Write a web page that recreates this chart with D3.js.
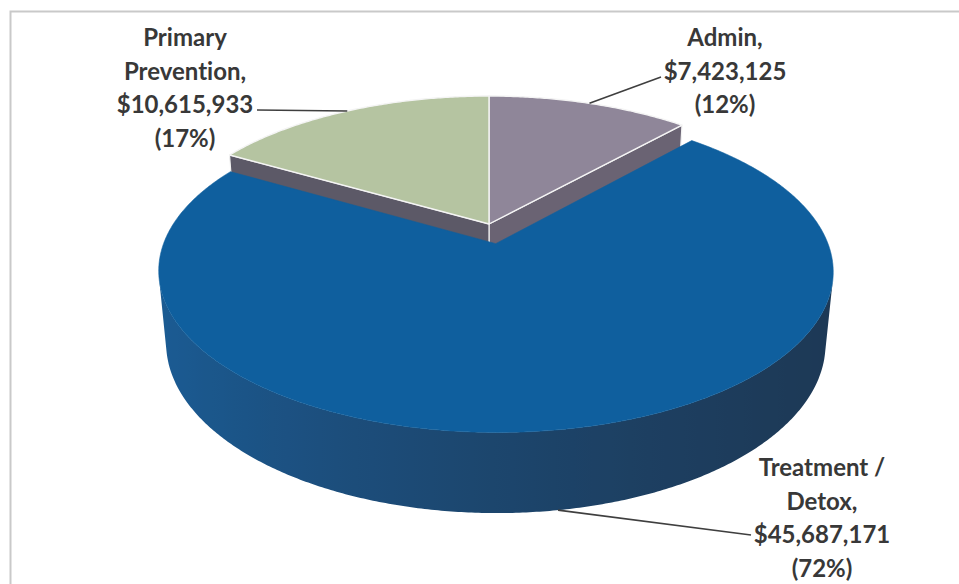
<!DOCTYPE html>
<html>
<head>
<meta charset="utf-8">
<script src="https://cdn.jsdelivr.net/npm/d3@7"></script>
<style>
  html, body { margin: 0; padding: 0; background: #ffffff; }
  svg { display: block; }
  text { font-variant-ligatures: none; font-feature-settings: "liga" 0, "clig" 0; }
</style>
</head>
<body>
<svg id="chart" width="959" height="584"></svg>
<script>
// Spending by program area
const categories = ["Admin", "Treatment / Detox", "Primary Prevention"];
const nameLines  = [["Admin"], ["Treatment /", "Detox"], ["Primary", "Prevention"]];
const amounts    = [7423125, 45687171, 10615933];
const explode    = [0, 0.13, 0];           // radial offset, fraction of radius
const topColors  = ["#8f8699", "#0f5f9e", "#b5c4a1"];
const wallColors = ["#6a6373", null, "#5c5967"];

const W = 959, H = 584;
const svg = d3.select("#chart");
const defs = svg.append("defs");

// Frame
svg.append("path")
  .attr("d", `M10.5,${H} V11.5 H${W}`)
  .attr("fill", "none").attr("stroke", "#c9c9c9").attr("stroke-width", 2);

// Simple perspective camera for a tilted cylinder (units of radius)
const cam = { cx: 489, cy: 224, F: 325, alpha: 27.4 * Math.PI / 180, k: 0.19, h: 0.248 };
const sa = Math.sin(cam.alpha), ca = Math.cos(cam.alpha);
function proj(X, Y, Z) {
  const up = Y * sa + Z * ca;
  const dep = 1 + cam.k * (Y * ca - Z * sa);
  return [cam.cx + cam.F * X / dep, cam.cy - cam.F * up / dep];
}

const pie = d3.pie().sort(null).value(d => d)
  .startAngle(0).endAngle(2 * Math.PI);
const arcs = pie(amounts);
const total = d3.sum(amounts);

const STEP = Math.PI / 360;
function sliceGeom(a, i) {
  const mid = (a.startAngle + a.endAngle) / 2;
  const ox = explode[i] * Math.sin(mid), oy = explode[i] * Math.cos(mid);
  const pt = (th, z) => proj(ox + Math.sin(th), oy + Math.cos(th), z);
  const ctr = z => proj(ox, oy, z);
  const n = Math.max(2, Math.ceil((a.endAngle - a.startAngle) / STEP));
  const ths = d3.range(n + 1).map(j => a.startAngle + (a.endAngle - a.startAngle) * j / n);
  return { mid, ox, oy, pt, ctr, ths };
}

const area = q => {
  let s = 0;
  for (let j = 0; j < q.length; j++) {
    const p = q[j], r = q[(j + 1) % q.length];
    s += p[0] * r[1] - r[0] * p[1];
  }
  return s / 2;
};
const line = d3.line();

// Lighting for the curved rim of the large slice
const rimDark = "#1d3956", rimLight = "#1b5b93";
function rimColor(th) {
  const t = (1 + Math.cos(th - 265 * Math.PI / 180)) / 2;
  return d3.interpolateRgb(rimDark, rimLight)(Math.pow(t, 1.6));
}

function drawSlice(a, i) {
  const g = svg.append("g");
  const s = sliceGeom(a, i);
  const mz = -cam.h;
  // radial walls (clockwise boundary: centre -> start edge, end edge -> centre)
  const walls = [
    [s.ctr(0), s.pt(a.startAngle, 0), s.pt(a.startAngle, mz), s.ctr(mz)],
    [s.pt(a.endAngle, 0), s.ctr(0), s.ctr(mz), s.pt(a.endAngle, mz)]
  ];
  walls.forEach(q => {
    if (area(q) < 0) {
      g.append("path").attr("d", line(q) + "Z")
        .attr("fill", wallColors[i] || rimColor(s.mid))
        .attr("stroke", i === 1 ? "none" : "#f2f2f2").attr("stroke-width", 1.2)
        .attr("stroke-linejoin", "round");
    }
  });
  // curved rim: gather the front-facing run into one band
  const vis = [];
  for (let j = 0; j < s.ths.length - 1; j++) {
    const t0 = s.ths[j], t1 = s.ths[j + 1];
    const q = [s.pt(t0, 0), s.pt(t1, 0), s.pt(t1, mz), s.pt(t0, mz)];
    if (area(q) < 0) { if (!vis.length) vis.push(t0); vis.push(t1); }
  }
  if (vis.length) {
    const band = vis.map(t => s.pt(t, 0)).concat(vis.slice().reverse().map(t => s.pt(t, mz)));
    let fill = wallColors[i];
    if (!fill) {
      const xs = vis.map(t => s.pt(t, mz)[0]);
      const x0 = d3.min(xs), x1 = d3.max(xs);
      const grad = defs.append("linearGradient")
        .attr("id", "rim" + i).attr("gradientUnits", "userSpaceOnUse")
        .attr("x1", x0).attr("x2", x1).attr("y1", 0).attr("y2", 0);
      vis.filter((t, j) => j % 6 === 0).slice().sort((p, q) => s.pt(p, mz)[0] - s.pt(q, mz)[0])
        .forEach(t => grad.append("stop")
          .attr("offset", (s.pt(t, mz)[0] - x0) / (x1 - x0))
          .attr("stop-color", rimColor(t)));
      fill = "url(#rim" + i + ")";
    }
    g.append("path").attr("d", line(band) + "Z").attr("fill", fill);
  }
  // top face
  const top = [s.ctr(0)].concat(s.ths.map(t => s.pt(t, 0)));
  g.append("path").attr("d", line(top) + "Z")
    .attr("fill", topColors[i])
    .attr("stroke", i === 1 ? topColors[i] : "#f4f4f4")
    .attr("stroke-width", i === 1 ? 0.6 : 1.4)
    .attr("stroke-linejoin", "round");
  return s;
}

// paint back slices first, then the exploded front slice
const geoms = [];
[0, 2, 1].forEach(i => { geoms[i] = drawSlice(arcs[i], i); });

// Labels
const fmt = d3.format(",");
const labelPos = [
  { x: 725, y: 46, end: [661, 77] },
  { x: 822, y: 476, end: [751, 535] },
  { x: 185, y: 46, end: [257, 110] }
];
function anchorPoint(i) {
  const s = geoms[i];
  if (i === 1) return proj(s.ox + Math.sin(s.mid), s.oy + Math.cos(s.mid), -cam.h);
  return proj(s.ox + Math.sin(s.mid), s.oy + Math.cos(s.mid), 0);
}

categories.forEach((c, i) => {
  const pct = Math.round(amounts[i] / total * 100);
  const lines = nameLines[i].map((t, j, arr) => j === arr.length - 1 ? t + "," : t)
    .concat(["$" + fmt(amounts[i]), "(" + pct + "%)"]);
  const lp = labelPos[i];
  const a = anchorPoint(i);
  svg.append("path")
    .attr("d", line([a, lp.end]))
    .attr("fill", "none").attr("stroke", "#3f3f3f").attr("stroke-width", 1.6);
  const txt = svg.append("text")
    .attr("x", lp.x).attr("y", lp.y)
    .attr("text-anchor", "middle")
    .attr("font-family", "Lato, 'Open Sans', sans-serif")
    .attr("font-weight", 700).attr("font-size", 24)
    .attr("fill", "#383838");
  lines.forEach((t, j) => {
    txt.append("tspan").attr("x", lp.x).attr("y", lp.y + j * 33.5).text(t);
  });
});
</script>
</body>
</html>
